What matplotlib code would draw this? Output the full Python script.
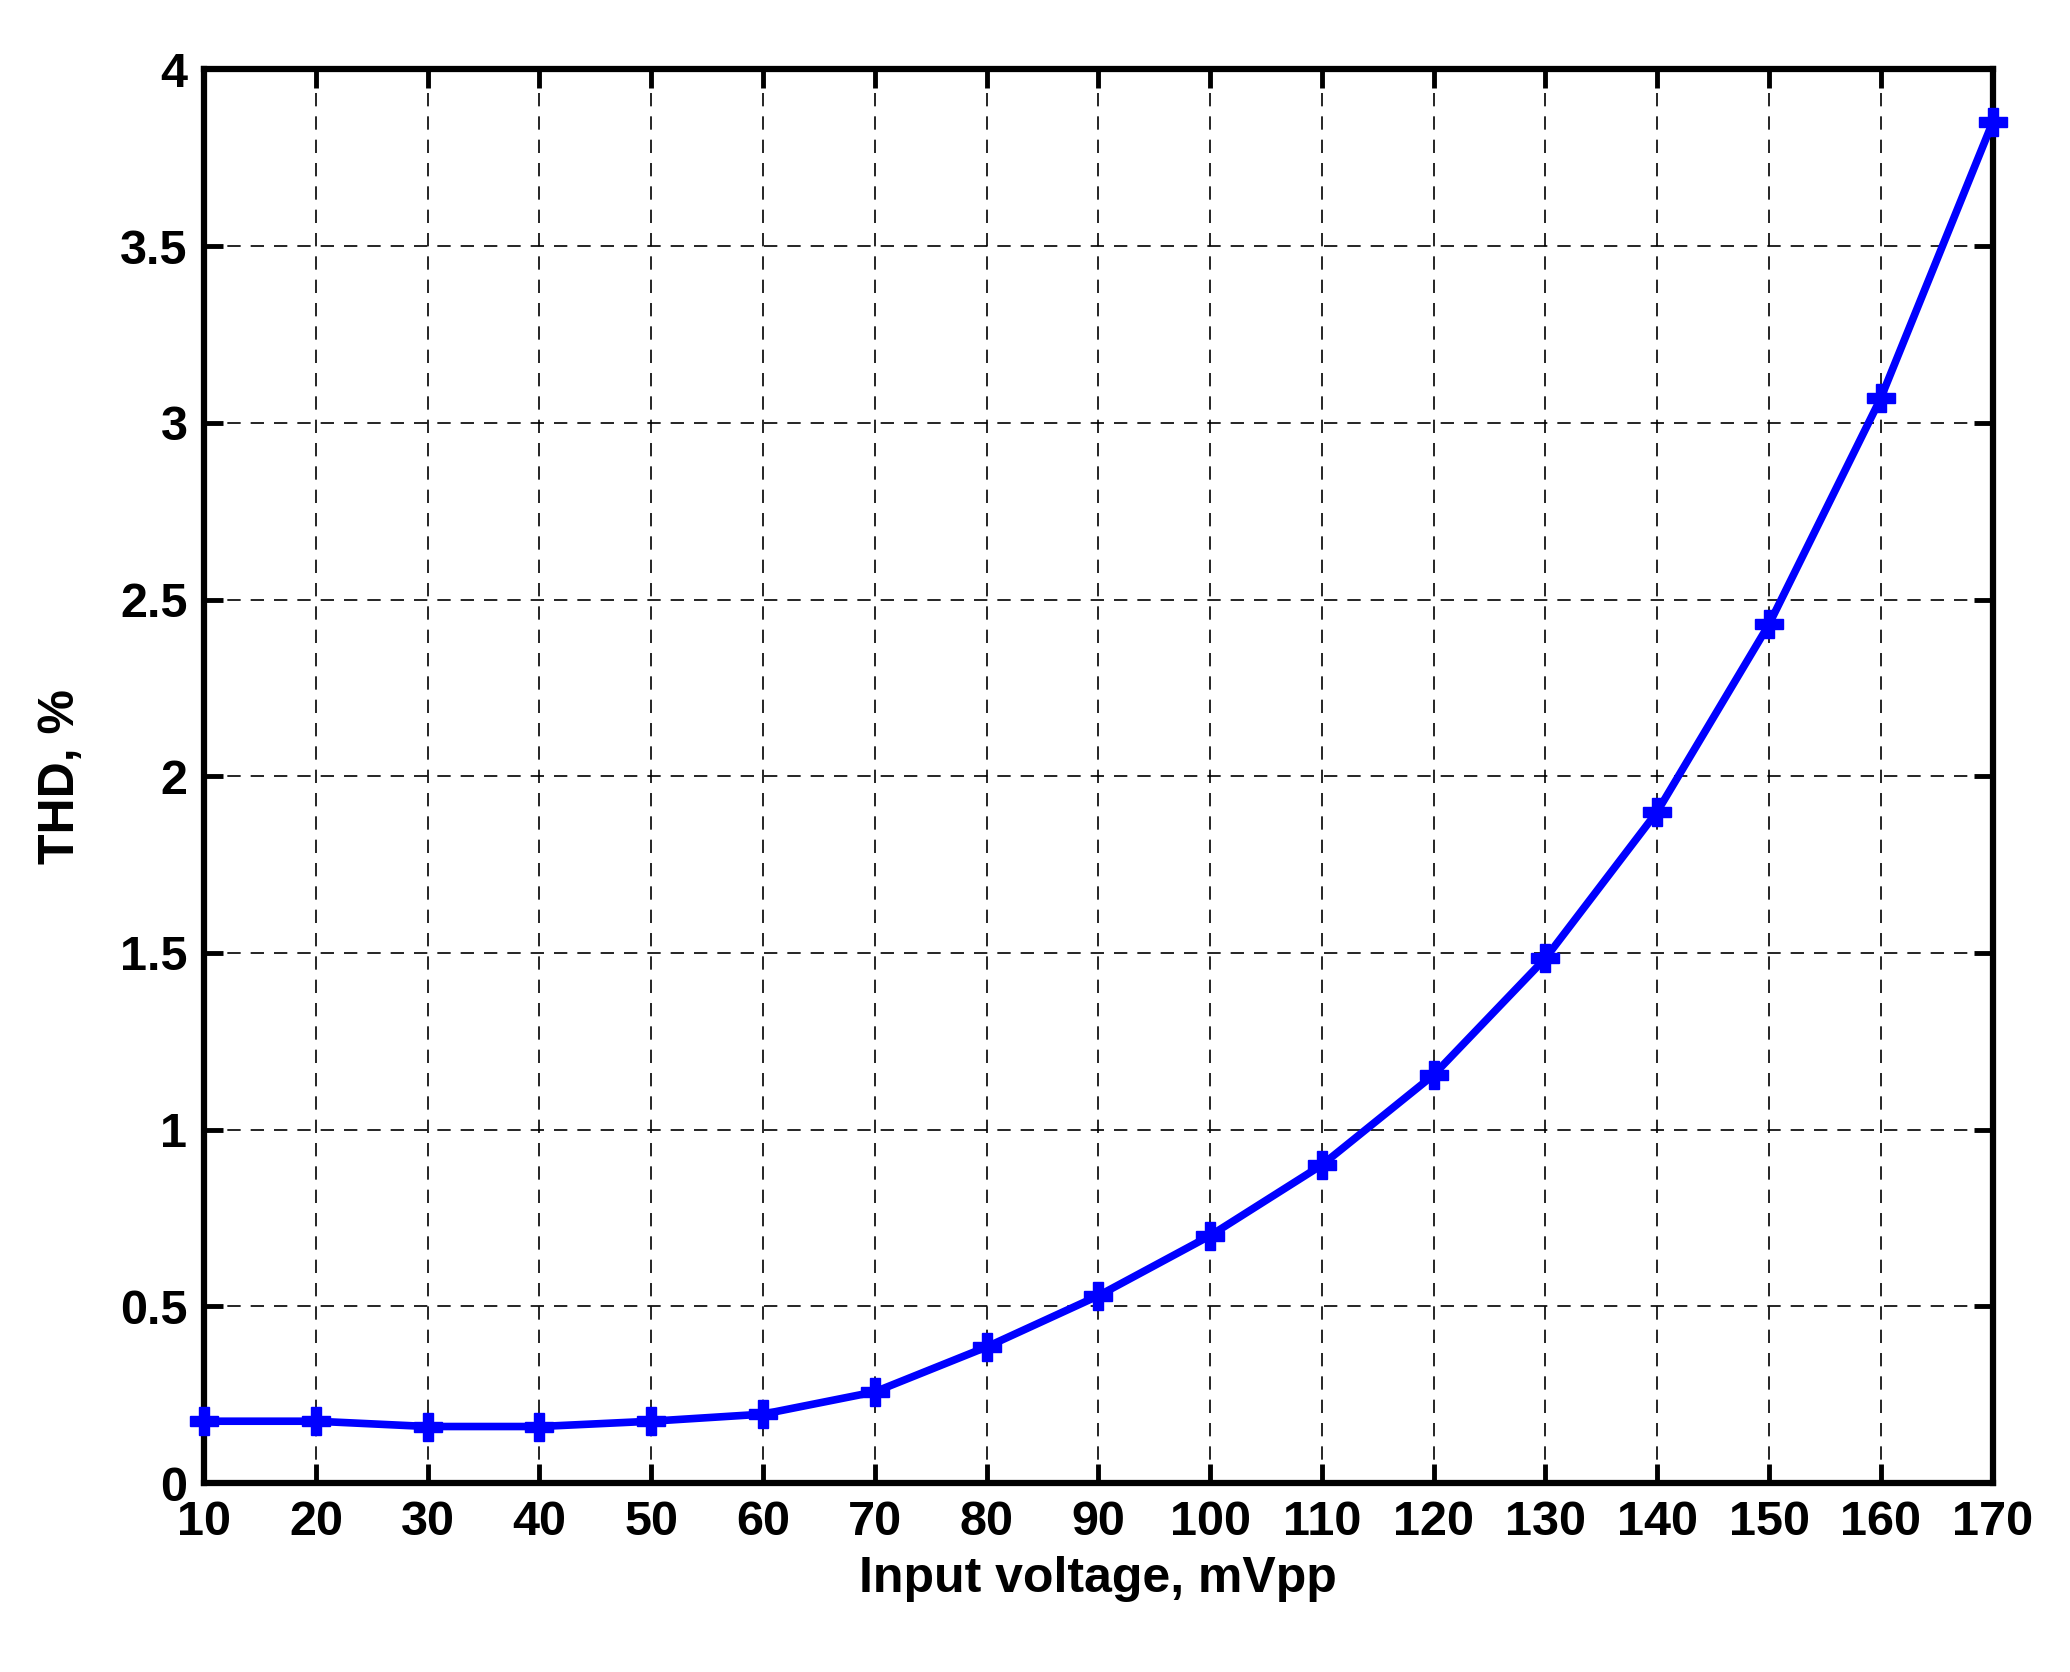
import matplotlib
matplotlib.use("Agg")
import matplotlib.pyplot as plt

x_vals = [10, 20, 30, 40, 50, 60, 70, 80, 90, 100, 110, 120, 130, 140, 150, 160, 170]
thd = [0.175, 0.175, 0.16, 0.16, 0.175, 0.195, 0.258, 0.385, 0.53, 0.70, 0.90, 1.155, 1.485, 1.90, 2.43, 3.07, 3.85]
xticks = list(range(10, 171, 10))
yticks = [0, 0.5, 1, 1.5, 2, 2.5, 3, 3.5, 4]
ytick_labels = ["0", "0.5", "1", "1.5", "2", "2.5", "3", "3.5", "4"]

plt.rcParams['font.family'] = ['Liberation Sans', 'DejaVu Sans']
plt.rcParams['font.weight'] = 'bold'
fig = plt.figure(figsize=(20.7, 16.72), dpi=100)
ax = fig.add_axes([0.0986, 0.113, 0.864, 0.8455])
ax.plot(x_vals, thd, color='#0000ff', lw=5.5, marker='P', markersize=20, clip_on=False, zorder=3)
ax.set_xlim(10, 170)
ax.set_ylim(0, 4)
ax.set_xticks(xticks)
ax.set_yticks(yticks)
ax.set_yticklabels(ytick_labels)
ax.grid(True, color='black', linestyle=(0, (8, 6)), lw=1.2)
for s in ax.spines.values():
    s.set_linewidth(4.5)
ax.tick_params(direction='in', length=14, width=3.5, labelsize=35, pad=12, top=True, right=True)
for lab in ax.get_xticklabels() + ax.get_yticklabels():
    lab.set_fontweight('bold')
ax.set_xlabel('Input voltage, mVpp', fontsize=36, fontweight='bold', labelpad=8)
ax.set_ylabel('THD, %', fontsize=36, fontweight='bold', labelpad=26)
fig.savefig('out.png', dpi=100, facecolor='white')
